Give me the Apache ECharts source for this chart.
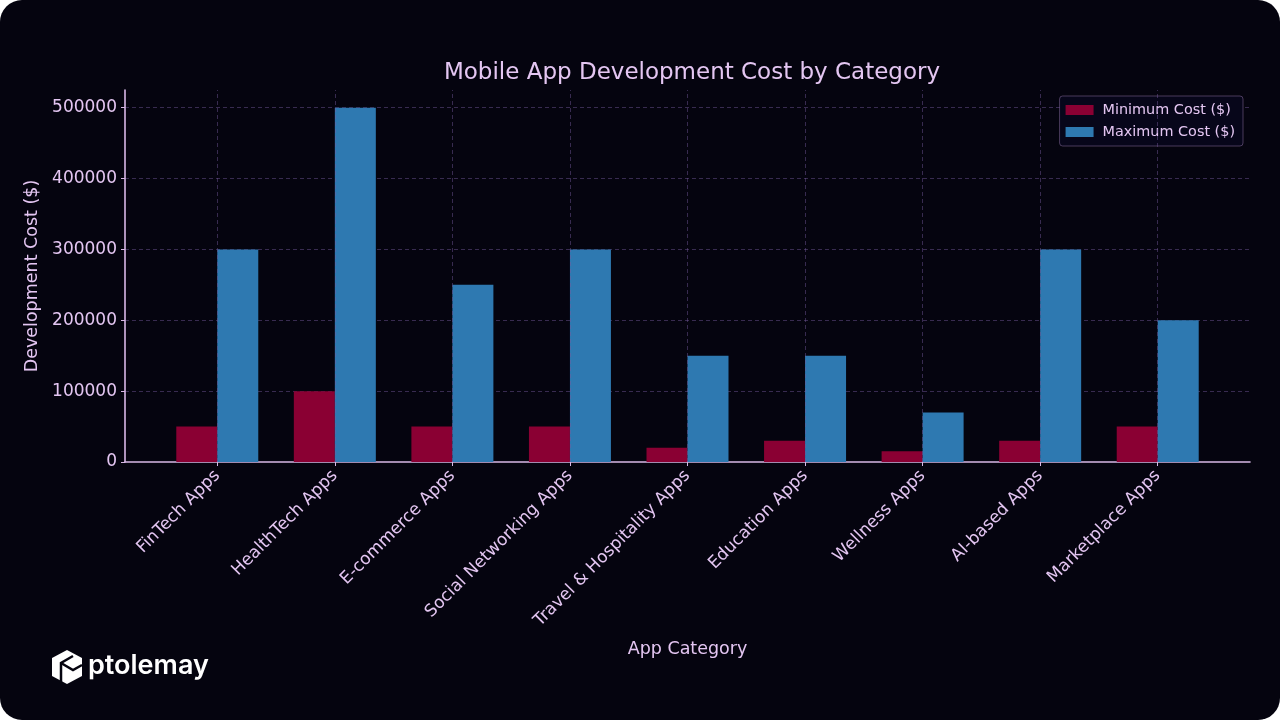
<!DOCTYPE html>
<html>
<head>
<meta charset="utf-8">
<script src="https://cdn.jsdelivr.net/npm/echarts@6/dist/echarts.min.js"></script>
<style>
html,body{margin:0;padding:0;background:#ffffff;width:1280px;height:720px;overflow:hidden;}
#card{position:absolute;left:0;top:0;width:1280px;height:720px;border-radius:22px;background:#05040f;overflow:hidden;}
#chart{width:1280px;height:720px;}
</style>
</head>
<body>
<div id="card"><div id="chart"></div></div>
<script>
const categories = ['FinTech Apps','HealthTech Apps','E-commerce Apps','Social Networking Apps','Travel & Hospitality Apps','Education Apps','Wellness Apps','AI-based Apps','Marketplace Apps'];
const minCost = [50000,100000,50000,50000,20000,30000,15000,30000,50000];
const maxCost = [300000,500000,250000,300000,150000,150000,70000,300000,200000];
const yTicks = [0,100000,200000,300000,400000,500000];

const textColor = '#e4c6f2';
const spineColor = '#d8b8e6';
const gridColor = 'rgba(120,90,160,0.45)';
const font = 'DejaVu Sans';
const idx = categories.map((c,i)=>i);

const chart = echarts.init(document.getElementById('chart'), null, {renderer:'canvas'});
chart.setOption({
  backgroundColor:'transparent',
  animation:false,
  textStyle:{fontFamily:font},
  title:{
    text:'Mobile App Development Cost by Category',
    left:687, top:57, textAlign:'center',
    textStyle:{color:textColor, fontSize:23, fontWeight:'normal', fontFamily:font}
  },
  legend:{
    orient:'vertical', right:37, top:96,
    padding:[7,8,7,6], itemGap:8,
    itemWidth:28, itemHeight:10,
    backgroundColor:'#07061a',
    borderColor:'rgba(200,160,225,0.35)', borderWidth:1, borderRadius:3,
    textStyle:{color:textColor, fontSize:14.4, fontFamily:font, padding:[0,0,0,4]},
    data:['Minimum Cost ($)','Maximum Cost ($)'],
    icon:'rect'
  },
  grid:{left:125, right:30, top:90, bottom:258, containLabel:false},
  xAxis:{
    type:'value', min:-0.785, max:8.785,
    name:'App Category', nameLocation:'middle', nameGap:178,
    nameTextStyle:{color:textColor, fontSize:17.5, fontFamily:font},
    axisLine:{show:true, onZero:false, lineStyle:{color:spineColor, width:1.6}},
    axisTick:{show:true, customValues:idx, length:4, lineStyle:{color:spineColor}},
    axisLabel:{
      customValues:idx, rotate:45, margin:11,
      color:textColor, fontSize:17, fontFamily:font,
      formatter:(v)=>categories[Math.round(v)]
    },
    splitLine:{show:false}
  },
  yAxis:{
    type:'value', min:0, max:525000, interval:100000,
    name:'Development Cost ($)', nameLocation:'middle', nameGap:79,
    nameTextStyle:{color:textColor, fontSize:17.5, fontFamily:font},
    axisLine:{show:true, onZero:false, lineStyle:{color:spineColor, width:1.6}},
    axisTick:{show:true, length:4, lineStyle:{color:spineColor}},
    axisLabel:{color:textColor, fontSize:17, fontFamily:font, margin:8,
      showMaxLabel:false,
      formatter:(v)=> yTicks.indexOf(v)>=0 ? String(v) : ''},
    splitLine:{show:true, showMaxLine:false, showMinLine:false, lineStyle:{color:gridColor, type:[4,3], width:1}}
  },
  series:[
    {
      type:'line', data:[], z:0, silent:true,
      markLine:{
        silent:true, symbol:['none','none'], label:{show:false},
        lineStyle:{color:gridColor, type:[4,3], width:1},
        data: idx.map(i=>({xAxis:i}))
      }
    },
    {
      name:'Minimum Cost ($)', type:'bar', barWidth:41, barGap:'0%',
      itemStyle:{color:'#8a0033'}, z:2,
      data: minCost.map((v,i)=>[i,v])
    },
    {
      name:'Maximum Cost ($)', type:'bar', barWidth:41, barGap:'0%',
      itemStyle:{color:'#2e79b1'}, z:2,
      data: maxCost.map((v,i)=>[i,v])
    }
  ],
  graphic:[
    {
      type:'group', left:52, top:650,
      children:[
        {type:'polygon', shape:{points:[[15,0],[30,8],[30,26],[15,34],[0,26],[0,8]]}, style:{fill:'#ffffff'}},
        {type:'polyline', shape:{points:[[9,34],[9,13],[21,6]]}, style:{stroke:'#05040f', lineWidth:2.5, fill:null}},
        {type:'polyline', shape:{points:[[9,13],[21,20],[30,15]]}, style:{stroke:'#05040f', lineWidth:2.5, fill:null}}
      ]
    },
    {
      type:'text', left:88, top:652,
      style:{text:'ptolemay', fill:'#ffffff', font:'600 27px Inter, "Open Sans", sans-serif'}
    }
  ]
});
</script>
</body>
</html>
